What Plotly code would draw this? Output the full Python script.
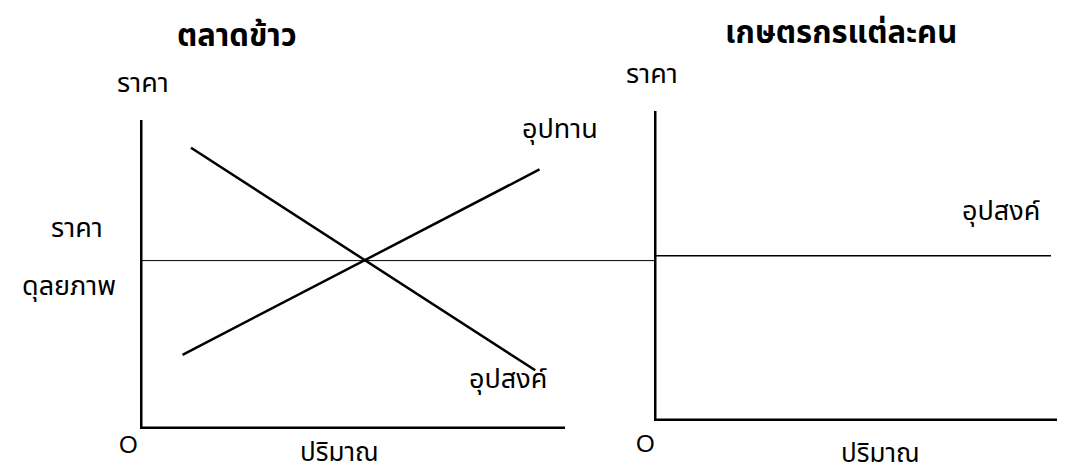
import plotly.graph_objects as go

# Rice market (left panel) - abstract price/quantity units
market_axis_q = [0, 0, 10]
market_axis_p = [10, 0, 0]
supply_q = [1.0, 9.4]
supply_p = [2.4, 8.4]
demand_q = [1.2, 9.3]
demand_p = [9.1, 1.9]
eq_price = 5.45

# Individual farmer (right panel)
farmer_axis_q = [0, 0, 10.5]
farmer_axis_p = [10.23, 0, 0]
farmer_demand_q = [0, 10]

W, H = 1065, 473
FONT = "Noto Sans Thai, Noto Sans, sans-serif"


def px(x, y):
    # pixel position -> paper coordinates
    return x / W, 1 - y / H


fig = go.Figure()

# left panel
fig.add_trace(go.Scatter(x=market_axis_q, y=market_axis_p, mode='lines',
                         line=dict(color='black', width=5), xaxis='x', yaxis='y'))
fig.add_trace(go.Scatter(x=[0, 12.2], y=[eq_price, eq_price], mode='lines',
                         line=dict(color='black', width=1), xaxis='x', yaxis='y'))
fig.add_trace(go.Scatter(x=supply_q, y=supply_p, mode='lines',
                         line=dict(color='black', width=2.5), xaxis='x', yaxis='y'))
fig.add_trace(go.Scatter(x=demand_q, y=demand_p, mode='lines',
                         line=dict(color='black', width=2.5), xaxis='x', yaxis='y'))

# right panel
fig.add_trace(go.Scatter(x=farmer_demand_q, y=[eq_price, eq_price], mode='lines',
                         line=dict(color='black', width=1.5), xaxis='x2', yaxis='y2'))
fig.add_trace(go.Scatter(x=farmer_axis_q, y=farmer_axis_p, mode='lines',
                         line=dict(color='black', width=5), xaxis='x2', yaxis='y2'))

# panel titles, anchored at their top so they stay inside the page
titles = [
    ("ตลาดข้าว", 229, 3),
    ("เกษตรกรแต่ละคน", 833, 0),
]
for text, x, y in titles:
    ax, ay = px(x, y)
    fig.add_annotation(text="<b>%s</b>" % text, x=ax, y=ay, xref='paper', yref='paper',
                       xanchor='center', yanchor='top', showarrow=False,
                       font=dict(family=FONT, size=31, color='black'))

# (text, x px, y px, size, family)
labels = [
    ("ราคา", 135, 75, 27, FONT),
    ("ราคา", 69, 221, 27, FONT),
    ("ดุลยภาพ", 61, 278, 27, FONT),
    ("อุปทาน", 552, 121, 27, FONT),
    ("อุปสงค์", 500, 371, 27, FONT),
    ("ปริมาณ", 331, 445, 26, FONT),
    ("ราคา", 644, 66, 27, FONT),
    ("อุปสงค์", 993, 203, 27, FONT),
    ("ปริมาณ", 872, 446, 26, FONT),
    ("O", 120, 436, 24, "Liberation Sans"),
    ("O", 637, 435, 24, "Liberation Sans"),
]
for text, x, y, size, family in labels:
    ax, ay = px(x, y)
    fig.add_annotation(text=text, x=ax, y=ay, xref='paper', yref='paper',
                       xanchor='center', yanchor='middle', showarrow=False,
                       font=dict(family=family, size=size, color='black'))

fig.update_layout(
    width=W, height=H,
    margin=dict(l=0, r=0, t=0, b=0),
    paper_bgcolor='white', plot_bgcolor='rgba(0,0,0,0)',
    showlegend=False,
    xaxis=dict(domain=[132 / W, 646 / W], range=[0, 514 / 42.5], visible=False),
    yaxis=dict(domain=[1 - 421 / H, 1 - 112 / H], range=[0, 10], visible=False),
    xaxis2=dict(domain=[646 / W, 1], range=[0, 419 / 39.7], visible=False),
    yaxis2=dict(domain=[1 - 413 / H, 1 - 103 / H], range=[0, 10.23], visible=False),
)

fig.write_html("out.html")
